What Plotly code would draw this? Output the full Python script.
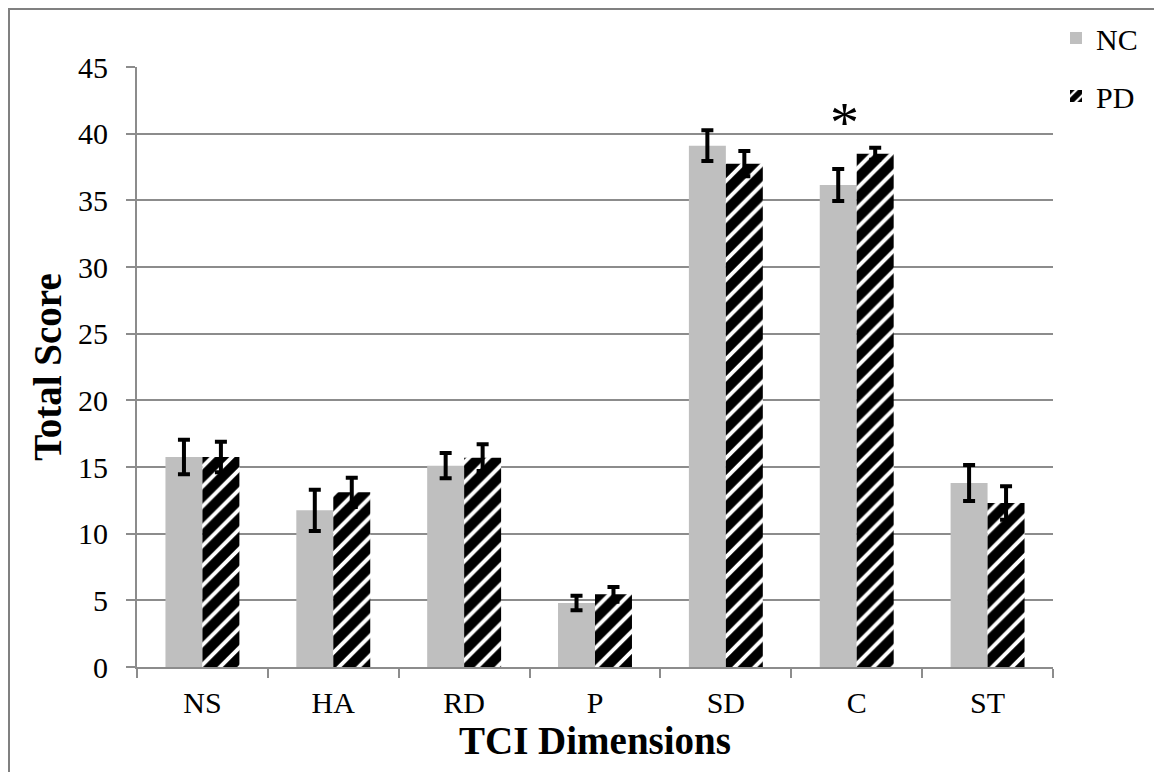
import plotly.graph_objects as go

categories = ["NS", "HA", "RD", "P", "SD", "C", "ST"]
nc_values = [15.75, 11.75, 15.1, 4.8, 39.1, 36.15, 13.8]
nc_errors = [1.3, 1.55, 0.95, 0.55, 1.15, 1.2, 1.35]
pd_values = [15.75, 13.1, 15.7, 5.45, 37.75, 38.5, 12.3]
pd_errors = [1.15, 1.1, 1.0, 0.55, 0.95, 0.45, 1.25]
y_ticks = [0, 5, 10, 15, 20, 25, 30, 35, 40, 45]
sig_category = "C"
sig_y = 40.85

FONT = "Liberation Serif"
GRID = "#8c8c8c"

fig = go.Figure()
fig.add_trace(go.Bar(
    name="NC", x=categories, y=nc_values, legendgroup="nc",
    marker=dict(color="#bfbfbf", line=dict(width=0)),
    error_y=dict(type="data", array=nc_errors, visible=True,
                 color="black", thickness=4, width=6),
))
fig.add_trace(go.Bar(
    name="PD", x=categories, y=pd_values, legendgroup="pd",
    marker=dict(color="white", line=dict(width=0),
                pattern=dict(shape="/", fgcolor="#000000", bgcolor="white",
                             fgopacity=1, fillmode="replace",
                             size=14, solidity=0.72)),
    error_y=dict(type="data", array=pd_errors, visible=True,
                 color="black", thickness=4, width=6),
))

fig.add_annotation(x=sig_category, y=sig_y, text="*", showarrow=False,
                   font=dict(family=FONT, size=58, color="black"),
                   xref="x", yref="y", yanchor="middle", xshift=-12)

# outer frame (page coordinates converted to paper fractions)
fig.add_shape(type="rect", xref="paper", yref="paper",
              x0=(9 - 137) / 916, x1=(1180 - 137) / 916,
              y0=(667 - 790) / 600, y1=(667 - 9) / 600,
              line=dict(color="#808080", width=2), fillcolor="rgba(0,0,0,0)",
              layer="below")

fig.update_layout(
    width=1154, height=764,
    margin=dict(l=129, r=109, t=59, b=105, autoexpand=False),
    paper_bgcolor="white", plot_bgcolor="white",
    barmode="group", bargap=0.435, bargroupgap=0,
    font=dict(family=FONT, size=30, color="black"),
    showlegend=True,
    legend=dict(x=(1056 - 137) / 916, xanchor="left", y=(667 - 12) / 600, yanchor="top",
                font=dict(family=FONT, size=30, color="black"),
                tracegroupgap=16, traceorder="grouped",
                bgcolor="rgba(0,0,0,0)"),
    xaxis=dict(
        title=dict(text="<b>TCI Dimensions</b>", font=dict(family=FONT, size=39),
                   standoff=2),
        showline=True, linecolor=GRID, linewidth=2,
        ticks="outside", tickson="boundaries", ticklen=9, tickcolor=GRID, tickwidth=2,
        ticklabelstandoff=8,
        tickfont=dict(family=FONT, size=30, color="black"),
        showgrid=False,
    ),
    yaxis=dict(
        title=dict(text="<b>Total Score</b>", font=dict(family=FONT, size=39),
                   standoff=4),
        range=[0, 45], tickvals=y_ticks,
        showline=True, linecolor=GRID, linewidth=2,
        ticks="outside", ticklen=9, tickcolor=GRID, tickwidth=2,
        ticklabelstandoff=12,
        tickfont=dict(family=FONT, size=30, color="black"),
        showgrid=True, gridcolor=GRID, gridwidth=2,
        zeroline=False,
    ),
)

fig.write_html("out.html")
